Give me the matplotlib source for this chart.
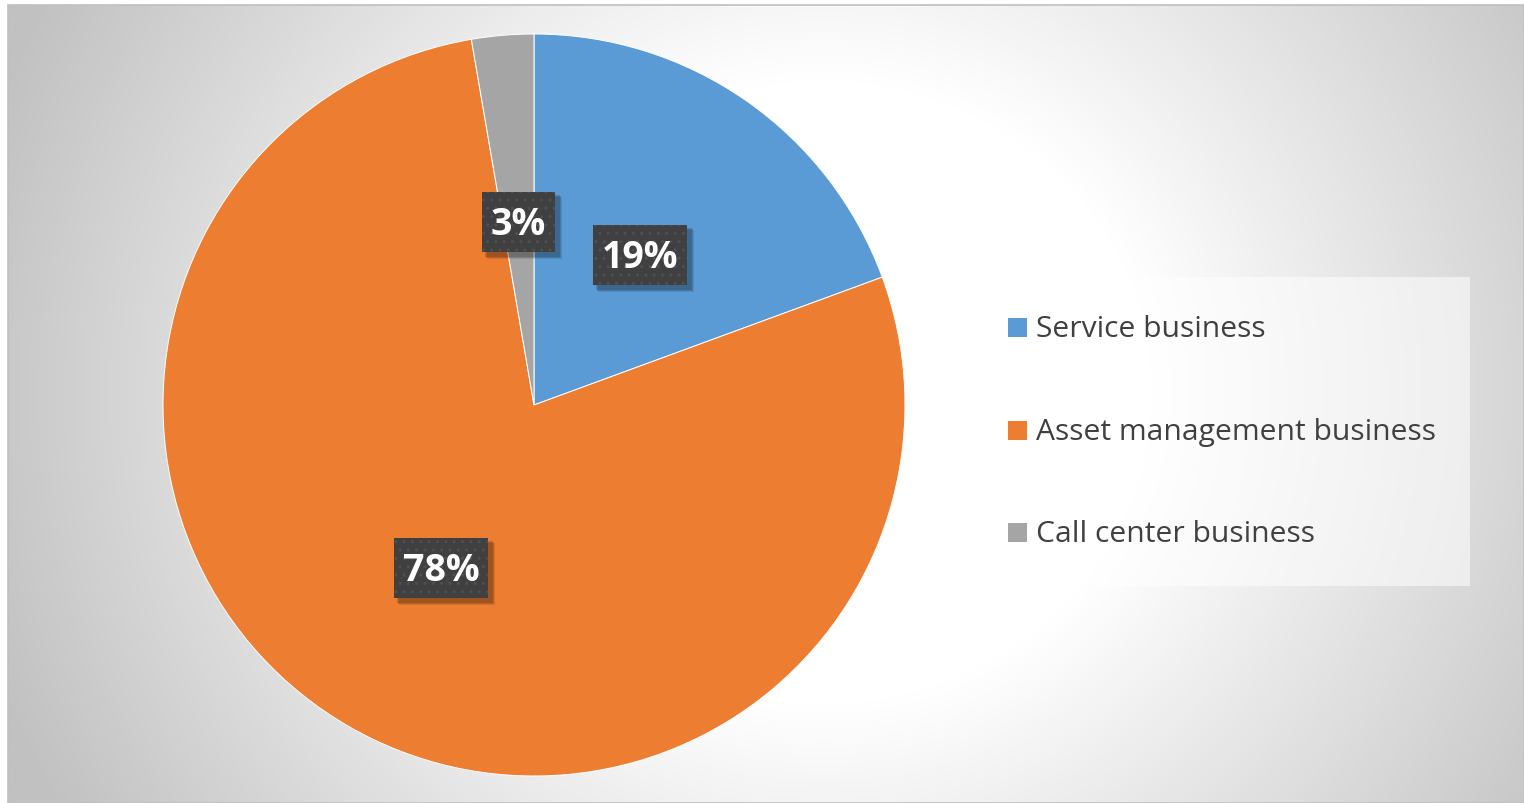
import numpy as np
import matplotlib
matplotlib.use("Agg")
import matplotlib.pyplot as plt
from matplotlib.patches import Rectangle

categories = ["Service business", "Asset management business", "Call center business"]
values = [19.4, 77.9, 2.7]
colors = ["#5B9BD5", "#ED7D31", "#A5A5A5"]

W, H = 1524, 804
fig = plt.figure(figsize=(W / 100, H / 100), dpi=100)
fig.patch.set_facecolor("white")

# background with radial gradient
bg = fig.add_axes([0, 0, 1, 1])
bg.set_xlim(0, W)
bg.set_ylim(H, 0)
bg.axis("off")
yy, xx = np.mgrid[0:H, 0:W]
cx, cy = 820, 390
d = np.hypot(xx - cx, (yy - cy) * 1.05)
t = np.clip((d - 330) / 560, 0, 1)
val = (255 - t * 62) / 255
img = np.dstack([val, val, val])
bg.imshow(img, extent=[8, W, H, 6], origin="upper", aspect="auto", zorder=0)
bg.add_patch(Rectangle((8, 6), W - 8.5, H - 6.5, fill=False, edgecolor="#BFBFBF", lw=1.2, zorder=1))

# legend box
bg.add_patch(Rectangle((970, 278), 500, 309, facecolor="white", alpha=0.55, edgecolor="none", zorder=2))
leg_y = [329, 432, 534]
for c, lab, y in zip(colors, categories, leg_y):
    bg.add_patch(Rectangle((1008, y - 10), 19, 19, facecolor=c, edgecolor="none", zorder=3))
    bg.text(1036, y + 1, lab, fontsize=21.6, family="Open Sans", color="#404040",
            va="center", ha="left", zorder=3)

# pie
cxp, cyp, R = 534, 406, 371
ax = fig.add_axes([(cxp - R) / W, (H - cyp - R) / H, 2 * R / W, 2 * R / H])
ax.axis("off")
wedges, texts, autotexts = ax.pie(values, colors=colors, startangle=90, counterclock=False,
                                  autopct="%.0f%%", pctdistance=0.5, radius=1,
                                  wedgeprops=dict(linewidth=0.7, edgecolor="white"))
ax.set_xlim(-1, 1)
ax.set_ylim(-1, 1)
ax.set_aspect("equal")

# overlay for data label boxes
ov = fig.add_axes([0, 0, 1, 1])
ov.set_xlim(0, W)
ov.set_ylim(H, 0)
ov.axis("off")
ov.patch.set_alpha(0)

fig.canvas.draw()
renderer = fig.canvas.get_renderer()
for at in autotexts:
    at.set_fontsize(27)
    at.set_fontweight("bold")
    at.set_family("Open Sans")
    ext = at.get_window_extent(renderer)
    px, py = ax.transData.transform(at.get_position())
    s = at.get_text()
    at.set_visible(False)
    bw = ext.width + 18
    bh = 60
    x0 = px - bw / 2
    y0 = (H - py) - bh / 2 + 2
    for k, a in [(6, 0.10), (5, 0.12), (4, 0.15)]:
        ov.add_patch(Rectangle((x0 + k - 1, y0 + k - 1), bw + 2, bh + 2, facecolor="black",
                               alpha=a, edgecolor="none", zorder=4))
    ov.add_patch(Rectangle((x0, y0), bw, bh, facecolor="#404040", edgecolor="#4F4F4F",
                           linewidth=0, hatch="..", zorder=5))
    ov.text(px, H - py + 4, s, fontsize=27, fontweight="bold", family="Open Sans",
            color="white", ha="center", va="center", zorder=6)

fig.savefig("out.png", dpi=100)
